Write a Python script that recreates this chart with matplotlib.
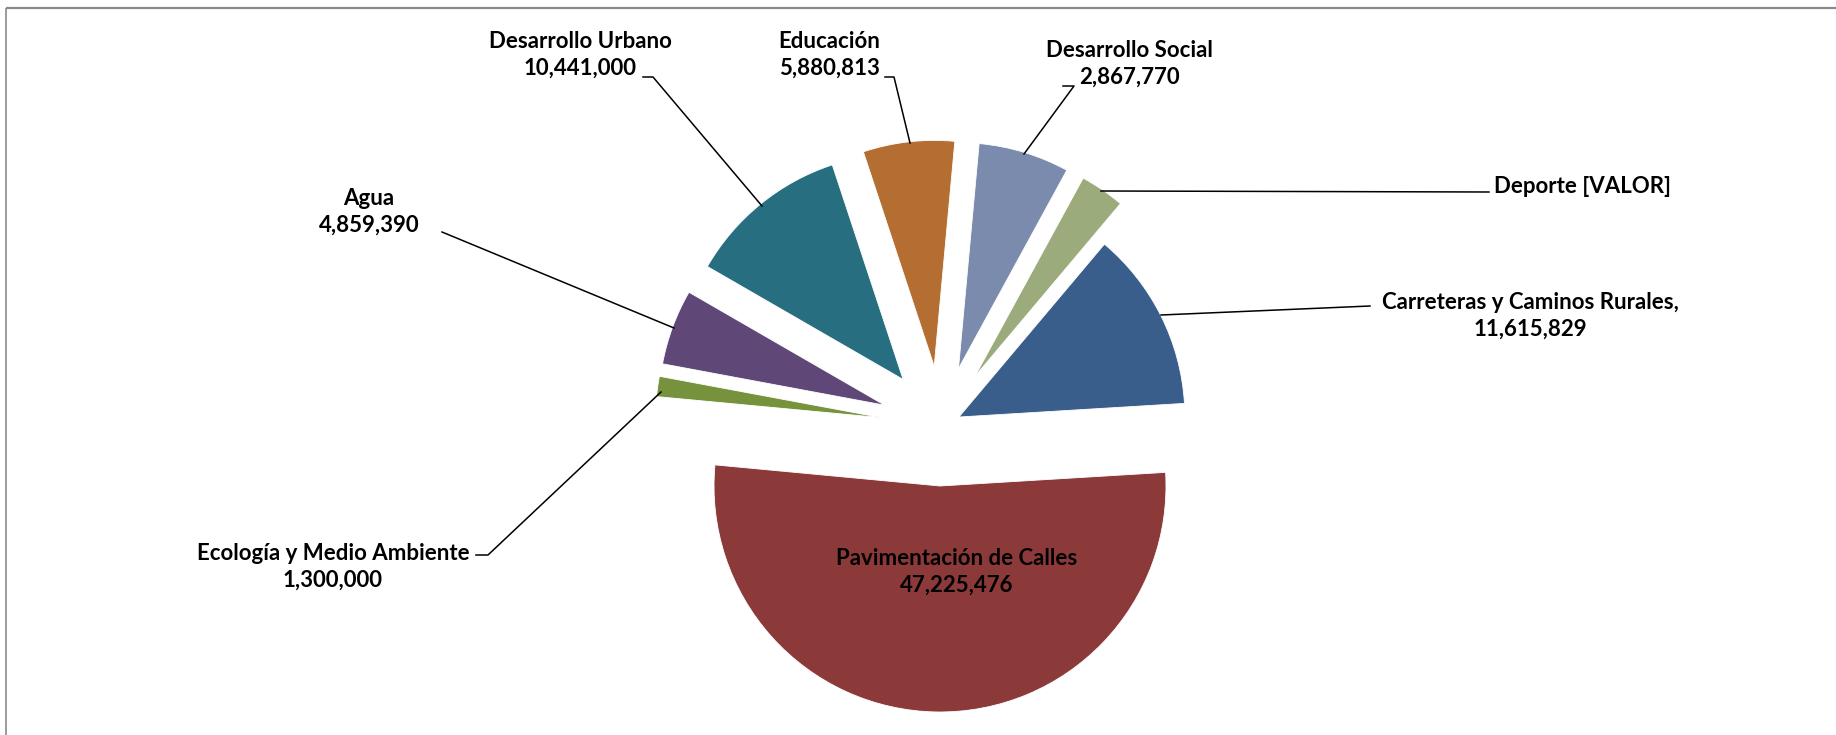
import matplotlib
matplotlib.use("Agg")
import matplotlib.pyplot as plt

# data, in the order of the slices (clockwise, starting with Carreteras)
categories = ["Carreteras y Caminos Rurales,", "Pavimentación de Calles",
              "Ecología y Medio Ambiente", "Agua", "Desarrollo Urbano",
              "Educación", "Desarrollo Social", "Deporte"]
values = [11615829, 47225476, 1300000, 4859390, 10441000, 5880813, 5850000, 2867770]
value_text = ["11,615,829", "47,225,476", "1,300,000", "4,859,390", "10,441,000",
              "5,880,813", "2,867,770", "[VALOR]"]
colors = ["#3A5E8C", "#8C3939", "#76923C", "#5F4878", "#276F80",
          "#B46E32", "#7A8BAD", "#9BAB7C"]

W, H = 1836, 735
plt.rcParams['font.family'] = ['Lato', 'DejaVu Sans']

fig = plt.figure(figsize=(W / 100, H / 100), dpi=100)
ax = fig.add_axes([0, 0, 1, 1])

R = 226
# explode is in data units (pixels here)
explode = [20] + [60] * 7
ax.pie(values, colors=colors, explode=explode, startangle=49.9, counterclock=False,
       center=(941, H - 426), radius=R,
       wedgeprops=dict(linewidth=0.6, edgecolor="white"))
ax.set_xlim(0, W)
ax.set_ylim(0, H)
ax.set_aspect("equal")
ax.axis("off")

# frame (top and left edges only visible)
ax.plot([6, W], [H - 8, H - 8], color="#8a8a8a", lw=1.6, solid_capstyle="butt")
ax.plot([6, 6], [H - 8, 0], color="#8a8a8a", lw=1.2, solid_capstyle="butt")

# label positions (x, y in image pixels) and leader lines
label_pos = [(1530, 316), (957, 572), (333, 567), (369, 212), (580, 55),
             (829, 55), (1129, 64), (1583, 186)]
leaders = [
    [(1370, 306), (1161, 315)],
    None,
    [(476, 555), (488, 555), (661, 392)],
    [(442, 232), (674, 328)],
    [(643, 77), (653, 77), (762, 206)],
    [(885, 77), (894, 77), (910, 143)],
    [(1063, 86), (1074, 86), (1024, 154)],
    [(1489, 192), (1101, 191)],
]

for i, name in enumerate(categories):
    x, y = label_pos[i]
    if name == "Deporte":
        txt = name + " " + value_text[i]
    else:
        txt = name + "\n" + value_text[i]
    ax.text(x, H - y, txt, ha="center", va="center", fontsize=16,
            fontweight="bold", color="black", linespacing=1.35)
    if leaders[i] is not None:
        xs = [p[0] for p in leaders[i]]
        ys = [H - p[1] for p in leaders[i]]
        ax.plot(xs, ys, color="black", lw=1.1)

fig.savefig("out.png", dpi=100, facecolor="white")
